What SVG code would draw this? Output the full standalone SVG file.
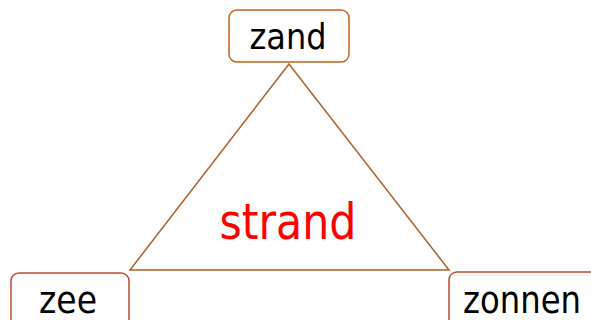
<svg xmlns="http://www.w3.org/2000/svg" width="591" height="320" viewBox="0 0 591 320">
<style>
.box{fill:#fff;stroke-width:1.5}
.lbl{font-family:"DejaVu Sans",sans-serif;fill:#000}
</style>
<rect width="591" height="320" fill="#fff"/>
<g id="connectors">
<polygon points="289,64 130,270 449,270" fill="none" stroke="#b0602a" stroke-width="1.5"/>
</g>
<g id="strand">
<text class="lbl" x="288" y="239" text-anchor="middle" font-size="50" style="fill:#ff0000" textLength="137" lengthAdjust="spacingAndGlyphs">strand</text>
</g>
<g id="zand">
<rect class="box" x="229" y="10" width="120" height="52" rx="8" stroke="#c4641e"/>
<text class="lbl" x="288" y="49" text-anchor="middle" font-size="35" textLength="77" lengthAdjust="spacingAndGlyphs">zand</text>
</g>
<g id="zee">
<rect class="box" x="11" y="273" width="118" height="60" rx="8" stroke="#c04a30"/>
<text class="lbl" x="68" y="313" text-anchor="middle" font-size="38" textLength="58" lengthAdjust="spacingAndGlyphs">zee</text>
</g>
<g id="zonnen">
<rect class="box" x="449" y="272" width="160" height="60" rx="8" stroke="#c04a30"/>
<text class="lbl" x="522" y="313" text-anchor="middle" font-size="38" textLength="118" lengthAdjust="spacingAndGlyphs">zonnen</text>
</g>
</svg>
